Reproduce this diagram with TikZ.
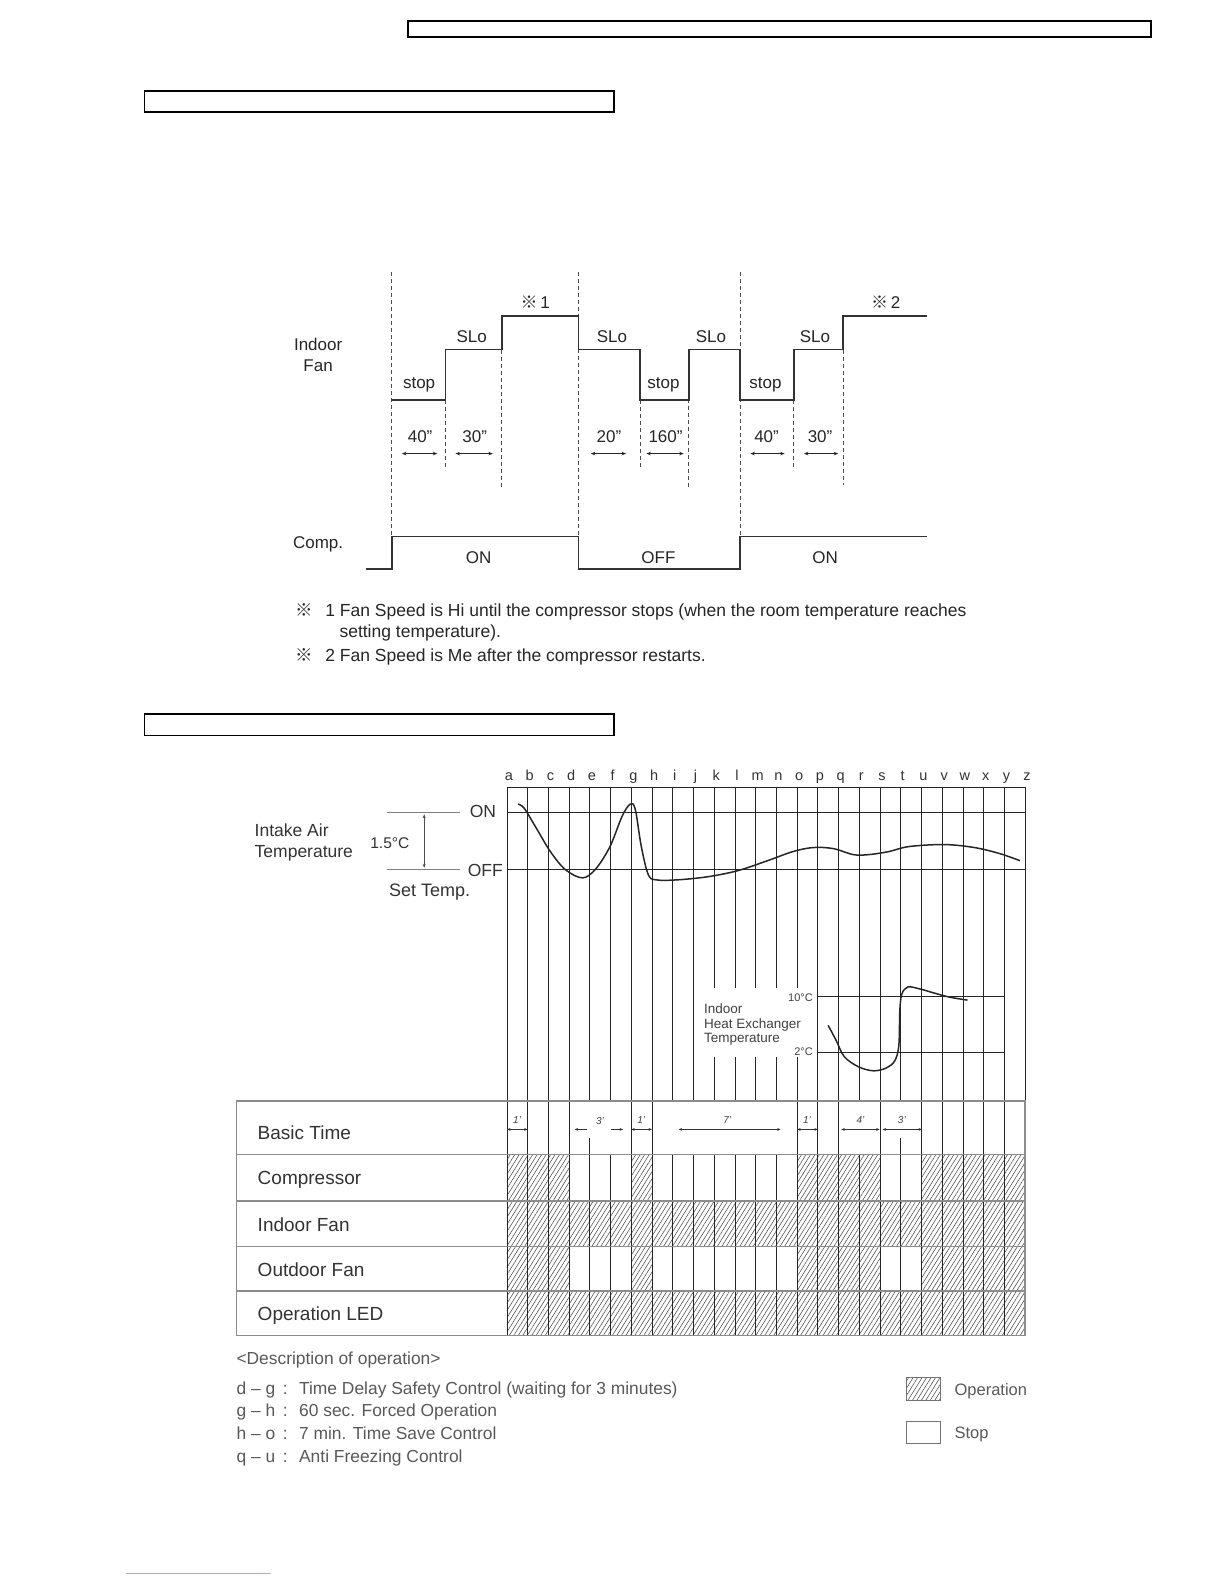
\documentclass[tikz,border=0pt]{standalone}
\usepackage{fontspec}
\setmainfont{Liberation Sans}
\newfontfamily\cjk{Noto Sans CJK SC}
\usetikzlibrary{arrows.meta,patterns.meta}
\begin{document}
\begin{tikzpicture}[x=1.0099pt,y=-1.0102pt,
  hbox/.style={draw=black,line width=1.8pt},
  wave/.style={draw=black!80,line width=1.6pt},
  dashv/.style={draw=black!70,line width=0.9pt,dash pattern=on 4pt off 3pt},
  dur/.style={draw=black!85,line width=1pt,{Stealth[length=4.5pt,width=3.5pt]}-{Stealth[length=4.5pt,width=3.5pt]}},
  ulbl/.style={font=\fontsize{17}{19}\selectfont,text=black!85,inner sep=0pt,anchor=base},
  note/.style={font=\fontsize{17.5}{20}\selectfont,text=black!85,inner sep=0pt,anchor=base west},
  letter/.style={font=\fontsize{14.5}{17}\selectfont,text=black!80,inner sep=0pt,anchor=base},
  llbl/.style={font=\fontsize{17.5}{20}\selectfont,text=black!80,inner sep=0pt,anchor=base west},
  tlbl/.style={font=\fontsize{19}{22}\selectfont,text=black!80,inner sep=0pt,anchor=base west},
  dlbl/.style={font=\fontsize{17.4}{20}\selectfont,text=black!65,inner sep=0pt,anchor=base west},
  small/.style={font=\fontsize{13.5}{15}\selectfont,text=black!75,inner sep=0pt,anchor=base west},
  tiny/.style={font=\itshape\fontsize{10}{11}\selectfont,text=black!75,inner sep=0pt,anchor=base},
  gl/.style={draw=black!85,line width=0.8pt},
  tline/.style={draw=black!45,line width=1.6pt},
  shortl/.style={draw=black!50,line width=1.1pt},
  bt/.style={draw=black!80,line width=0.8pt,{Stealth[length=3.5pt,width=2.8pt]}-{Stealth[length=3.5pt,width=2.8pt]}},
  btr/.style={draw=black!80,line width=0.8pt,-{Stealth[length=3.5pt,width=2.8pt]}},
  hatch/.style={pattern={Lines[angle=58,distance=3.8pt,line width=0.55pt]},pattern color=black!70},
  curve/.style={draw=black!85,line width=1.5pt}]
\useasboundingbox (0,0) rectangle (1212,1568);
\fill[white] (0,0) rectangle (1212,1568);

% header boxes
\draw[hbox] (404,21) rectangle (1140,37);
\draw[hbox] (143,90) rectangle (608,111);
\draw[hbox] (143,707) rectangle (608,728);

% ---------- upper timing diagram ----------
\draw[dashv] (388,269) -- (388,531);
\draw[dashv] (573,269) -- (573,531);
\draw[dashv] (733,269) -- (733,531);
\draw[dashv] (441,396) -- (441,462);
\draw[dashv] (497,346) -- (497,483);
\draw[dashv] (634,396) -- (634,462);
\draw[dashv] (682,346) -- (682,483);
\draw[dashv] (786,396) -- (786,462);
\draw[dashv] (835,346) -- (835,480);

\draw[wave] (388,396) -- (441,396) -- (441,346) -- (497,346) -- (497,313) -- (573,313)
  -- (573,346) -- (634,346) -- (634,396) -- (682,396) -- (682,346) -- (733,346)
  -- (733,396) -- (786,396) -- (786,346) -- (835,346) -- (835,313) -- (918,313);
\draw[wave] (362,563) -- (388,563) -- (388,531) -- (573,531) -- (573,563) -- (733,563)
  -- (733,531) -- (918,531);

\node[ulbl] (indoor) at (315,347) {Indoor};
\node[ulbl] (fan) at (315,368) {Fan};
\node[ulbl] (comp) at (315,543) {Comp.};
\node[ulbl] (st1) at (415,385) {stop};
\node[ulbl] (st2) at (657,385) {stop};
\node[ulbl] (st3) at (758,385) {stop};
\node[ulbl] (sl1) at (467,339) {SLo};
\node[ulbl] (sl2) at (606,339) {SLo};
\node[ulbl] (sl3) at (704,339) {SLo};
\node[ulbl] (sl4) at (807,339) {SLo};
\node[ulbl] (m1) at (530,305) {{\cjk ※}\,1};
\node[ulbl] (m2) at (877,305) {{\cjk ※}\,2};
\node[ulbl] (d1) at (416,438) {40"};
\node[ulbl] (d2) at (470,438) {30"};
\node[ulbl] (d3) at (603,438) {20"};
\node[ulbl] (d4) at (659,438) {160"};
\node[ulbl] (d5) at (759,438) {40"};
\node[ulbl] (d6) at (812,438) {30"};
\coordinate (a1) at (398,449); \coordinate (b1) at (433,449);
\coordinate (a2) at (451,449); \coordinate (b2) at (488,449);
\coordinate (a3) at (585,449); \coordinate (b3) at (620,449);
\coordinate (a4) at (640,449); \coordinate (b4) at (677,449);
\coordinate (a5) at (743,449); \coordinate (b5) at (777,449);
\coordinate (a6) at (796,449); \coordinate (b6) at (830,449);
\foreach \k in {1,...,6} \draw[dur] (a\k) -- (b\k);
\node[ulbl] (on1) at (474,558) {ON};
\node[ulbl] (off1) at (652,558) {OFF};
\node[ulbl] (on2) at (817,558) {ON};

% notes
\node[note] (n1s) at (292,610) {\cjk ※};
\node[note] (n1) at (322,610) {1 Fan Speed is Hi until the compressor stops (when the room temperature reaches};
\node[note] (n1b) at (336,631) {setting temperature).};
\node[note] (n2s) at (292,655) {\cjk ※};
\node[note] (n2) at (322,655) {2 Fan Speed is Me after the compressor restarts.};

% ---------- lower chart ----------
% hatch fills
\foreach \p/\q in {0/3,6/7,14/18,20/25} {
  \fill[hatch] ({502+20.52*\p},1143) rectangle ({502+20.52*\q},1189);
  \fill[hatch] ({502+20.52*\p},1234) rectangle ({502+20.52*\q},1278);
}
\fill[hatch] (502,1189) rectangle (1015,1234);
\fill[hatch] (502,1278) rectangle (1015,1322);

% vertical grid lines
\foreach \i in {0,...,9,15,16,17,18,19,20,21,22,23,24,25}
  \draw[gl] ({502+20.52*\i},779) -- ({502+20.52*\i},1090);
\foreach \i in {10,...,14} {
  \draw[gl] ({502+20.52*\i},779) -- ({502+20.52*\i},978);
  \draw[gl] ({502+20.52*\i},1046) -- ({502+20.52*\i},1090);
}
\foreach \i in {0,1,2,3,6,7,14,15,16,18,20,21,22,23,24,25}
  \draw[gl] ({502+20.52*\i},1090) -- ({502+20.52*\i},1143);
\foreach \i in {4,19}
  \draw[gl] ({502+20.52*\i},1126) -- ({502+20.52*\i},1143);
\foreach \i in {0,...,25}
  \draw[gl] ({502+20.52*\i},1143) -- ({502+20.52*\i},1322);

% letters
\foreach \l [count=\n from 0] in {a,b,c,d,e,f,g,h,i,j,k,l,m,n,o,p,q,r,s,t,u,v,w,x,y,z}
  \node[letter] (let\l) at ({504+20.52*\n},773) {\l};

% horizontal grid lines
\draw[gl] (502,779) -- (1015,779);
\draw[gl] (502,804) -- (1015,804);
\draw[gl] (502,861) -- (1015,861);
\draw[gl] (809,986) -- (994.5,986);
\draw[gl] (809,1042) -- (994.5,1042);

% intake air labels
\node[llbl] (intake) at (252,828) {Intake Air};
\node[llbl] (temp) at (252,849) {Temperature};
\draw[shortl] (383,804) -- (455,804);
\draw[shortl] (383,861) -- (455,861);
\draw[draw=black!70,line width=0.8pt,{Stealth[length=4pt,width=3pt]}-{Stealth[length=4pt,width=3pt]}] (420,806) -- (420,859);
\node[font=\fontsize{15.5}{17}\selectfont,text=black!80,inner sep=0pt,anchor=base] (dt) at (386,840) {1.5°C};
\node[llbl] (onl) at (465,809) {ON};
\node[llbl] (offl) at (463,868) {OFF};
\node[llbl,font=\fontsize{18}{20}\selectfont] (setT) at (385,887) {Set Temp.};

% intake air curve
\draw[curve] plot[smooth,tension=0.55] coordinates {(513,796) (519,800) (530,818) (545,843) (560,861) (577,869) (590,860) (604,838) (616,808) (624,796) (629,801) (635,838) (642,866) (650,871) (670,871) (700,868) (730,862) (760,852) (785,843) (805,839) (825,840) (845,846) (860,846) (880,843) (900,838) (935,836) (965,839) (990,845) (1010,852)};

% heat exchanger
\node[small] (he1) at (697,1003) {Indoor};
\node[small] (he2) at (697,1018) {Heat Exchanger};
\node[small] (he3) at (697,1032) {Temperature};
\node[font=\fontsize{11}{12}\selectfont,text=black!75,inner sep=0pt,anchor=base east] (t10) at (805,991) {10°C};
\node[font=\fontsize{11}{12}\selectfont,text=black!75,inner sep=0pt,anchor=base east] (t2) at (805,1045) {2°C};
\draw[curve] plot[smooth,tension=0.55] coordinates {(820,1015) (828,1030) (836,1046) (850,1056) (865,1060) (878,1057) (886,1050) (890,1035) (891,1000) (893,984) (899,977) (911,979) (925,983) (940,987) (958,990)};

% table
\draw[tline] (234,1090) rectangle (1015,1322);
\foreach \yy in {1143,1189,1234,1278} \draw[tline] (234,\yy) -- (1015,\yy);
\node[tlbl] (r1) at (255,1128) {Basic Time};
\node[tlbl] (r2) at (255,1173) {Compressor};
\node[tlbl] (r3) at (255,1219) {Indoor Fan};
\node[tlbl] (r4) at (255,1264) {Outdoor Fan};
\node[tlbl] (r5) at (255,1307) {Operation LED};

% basic time annotations
\coordinate (ba1) at (502,1118); \coordinate (bb1) at (522.5,1118);
\coordinate (ba2) at (625,1118); \coordinate (bb2) at (645.6,1118);
\coordinate (ba3) at (672,1118); \coordinate (bb3) at (773,1118);
\coordinate (ba4) at (789.3,1118); \coordinate (bb4) at (809.8,1118);
\coordinate (ba5) at (833,1118); \coordinate (bb5) at (871,1118);
\coordinate (ba6) at (874,1118); \coordinate (bb6) at (913,1118);
\foreach \k in {1,...,6} \draw[bt] (ba\k) -- (bb\k);
\coordinate (l3a) at (581,1118); \coordinate (l3b) at (569,1118);
\coordinate (r3a) at (605,1118); \coordinate (r3b) at (617,1118);
\draw[btr] (l3a) -- (l3b);
\draw[btr] (r3a) -- (r3b);
\node[tiny] (q1) at (512,1112) {1'};
\node[tiny] (q2) at (594,1113) {3'};
\node[tiny] (q3) at (635,1112) {1'};
\node[tiny] (q4) at (720,1112) {7'};
\node[tiny] (q5) at (799,1112) {1'};
\node[tiny] (q6) at (852,1112) {4'};
\node[tiny] (q7) at (893,1112) {3'};

% description
\node[dlbl] (desc) at (234,1351) {<Description of operation>};
\node[dlbl] (k1) at (234,1380) {d – g\ \,:};
\node[dlbl] (k2) at (234,1402) {g – h\ \,:};
\node[dlbl] (k3) at (234,1425) {h – o\ \,:};
\node[dlbl] (k4) at (234,1448) {q – u\ \,:};
\node[dlbl] (v1) at (296,1380) {Time Delay Safety Control (waiting for 3 minutes)};
\node[dlbl] (v2) at (296,1402) {60 sec. Forced Operation};
\node[dlbl] (v3) at (296,1425) {7 min. Time Save Control};
\node[dlbl] (v4) at (296,1448) {Anti Freezing Control};

% legend
\fill[hatch] (898,1364) rectangle (931,1386);
\draw[draw=black!55,line width=1pt] (898,1364) rectangle (931,1386);
\draw[draw=black!55,line width=1pt] (898,1407) rectangle (931,1429);
\node[dlbl,font=\fontsize{16.5}{19}\selectfont] (lg1) at (945,1381) {Operation};
\node[dlbl,font=\fontsize{16.5}{19}\selectfont] (lg2) at (945,1424) {Stop};

% bottom line
\draw[draw=blue!35,line width=0.8pt] (125,1557) -- (268,1557);
\end{tikzpicture}
\end{document}
